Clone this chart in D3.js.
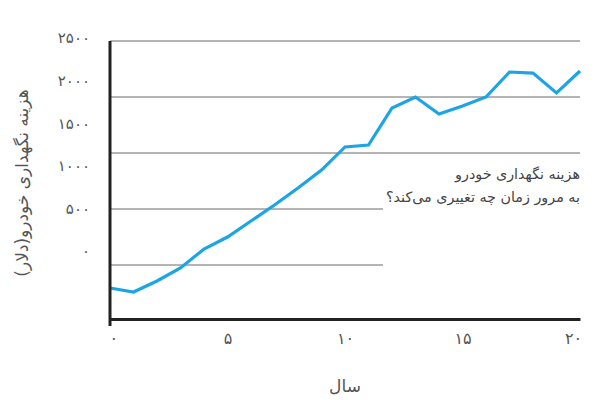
<!DOCTYPE html>
<html><head><meta charset="utf-8">
<script src="https://cdn.jsdelivr.net/npm/d3@7/dist/d3.min.js"></script>
<style>
body{margin:0;background:#fff;}
svg{display:block;font-family:"DejaVu Sans",sans-serif;}
</style></head>
<body><svg id="c" width="600" height="400"></svg>
<script>
const years = [0,1,2,3,4,5,6,7,8,9,10,11,12,13,14,15,16,17,18,19,20];
const costs = [295,259,357,473,643,750,893,1036,1188,1348,1554,1571,1902,2000,1848,1920,2000,2223,2214,2036,2232];
const xTicks = [0,5,10,15,20];
const yTickLabels = [0,500,1000,1500,2000,2500];
const gridValues = [500,1000,1500,2000,2500];
const yTitle = "هزینه نگهداری خودرو(دلار)";
const xTitle = "سال";
const noteLines = ["هزینه نگهداری خودرو","به مرور زمان چه تغییری می‌کند؟"];

const fa = s => String(s).replace(/[0-9]/g, d => "۰۱۲۳۴۵۶۷۸۹"[+d]);

const svg = d3.select("#c");
const x = d3.scaleLinear().domain([0,20]).range([110,580]);
const y = d3.scaleLinear().domain([0,2500]).range([321,41]);
const yLab = d3.scaleLinear().domain([0,2500]).range([251,38]);

// annotation (drawn first to measure)
const note = svg.append("g");
noteLines.forEach((t,i)=>{
  note.append("text").attr("x", x(20)).attr("y", 179 + i*23)
    .attr("direction","rtl").attr("text-anchor","start")
    .attr("font-size",14.3).attr("fill","#444").text(t);
});
const nb = note.node().getBBox();
const noteLeft = nb.x - 3;

// gridlines
svg.append("g").selectAll("line").data(gridValues).join("line")
  .attr("x1", x(0)).attr("x2", d => d <= 1000 ? noteLeft : x(20))
  .attr("y1", d => y(d)).attr("y2", d => y(d))
  .attr("stroke","#6b6b6b").attr("stroke-width",1);

// line
svg.append("path").datum(years.map((yr,i)=>[yr,costs[i]]))
  .attr("fill","none").attr("stroke","#1ca5e5").attr("stroke-width",3.2)
  .attr("stroke-linejoin","miter")
  .attr("d", d3.line().x(d=>x(d[0])).y(d=>y(d[1])));

// y axis line
svg.append("line").attr("x1",x(0)).attr("x2",x(0)).attr("y1",y(2500)).attr("y2",y(0)+5)
  .attr("stroke","#222").attr("stroke-width",3);

// x axis
const xa = svg.append("g").attr("transform",`translate(0,${y(0)-2})`)
  .call(d3.axisBottom(x).tickValues(xTicks).tickSize(0).tickSizeOuter(0).tickPadding(14).tickFormat(fa));
xa.select(".domain").attr("stroke","#222").attr("stroke-width",3);
xa.selectAll("text").attr("font-size",16).attr("fill","#555").attr("font-family","DejaVu Sans")
  .attr("text-anchor", d => d === 20 ? "end" : "middle")
  .attr("dx", d => d === 20 ? "0.1em" : d === 0 ? "0.2em" : 0);

// y tick labels (offset scale)
const ya = svg.append("g").attr("transform",`translate(${x(0)},0)`)
  .call(d3.axisLeft(yLab).tickValues(yTickLabels).tickSize(0).tickPadding(20).tickFormat(fa));
ya.select(".domain").remove();
ya.selectAll("text").attr("font-size",15).attr("fill","#555").attr("font-family","DejaVu Sans");

// titles
svg.append("text").attr("transform","translate(22,183) rotate(-90)")
  .attr("text-anchor","middle").attr("direction","rtl").attr("dy","0.35em")
  .attr("font-size",17).attr("fill","#555").text(yTitle);
svg.append("text").attr("x",345).attr("y",392).attr("text-anchor","middle")
  .attr("font-size",17).attr("fill","#555").text(xTitle);
</script></body></html>
